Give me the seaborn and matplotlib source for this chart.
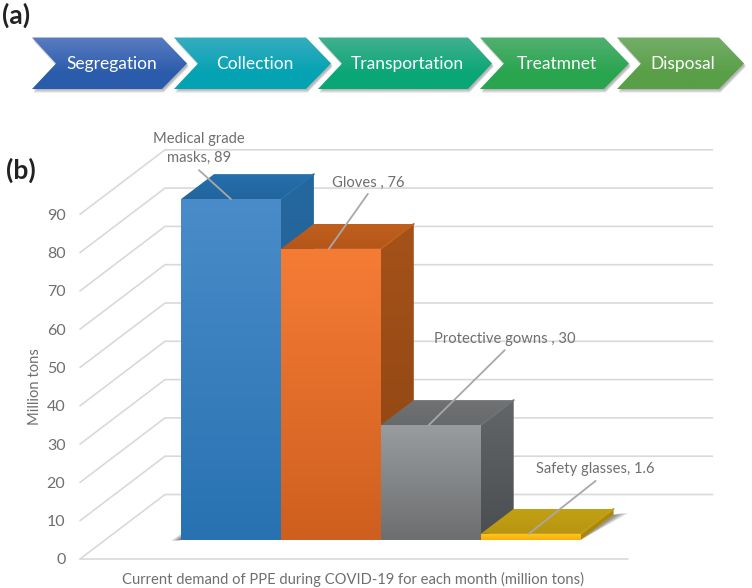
import numpy as np
import matplotlib
matplotlib.use("Agg")
import matplotlib.pyplot as plt
from matplotlib.colors import to_rgb
from matplotlib.patches import Polygon
import seaborn as sns

# ---- data ----
steps = ["Segregation", "Collection", "Transportation", "Treatmnet", "Disposal"]
categories = ["Medical grade masks", "Gloves", "Protective gowns", "Safety glasses"]
values = [89, 76, 30, 1.6]
bar_labels = ["Medical grade\nmasks, 89", "Gloves , 76", "Protective gowns , 30", "Safety glasses, 1.6"]
y_ticks = [0, 10, 20, 30, 40, 50, 60, 70, 80, 90]
y_label = "Million tons"
x_label = "Current demand of PPE during COVID-19 for each month (million tons)"

# ---- styles ----
W, H = 752, 588
GRID = "#d9d9d9"
TXT = "#6f6f6f"
front_top = ["#4a8cca", "#f57c35", "#999c9e", "#ffc91e"]
front_bot = ["#2872b1", "#cf5f1f", "#6c6e70", "#f8ae08"]
top_top = ["#2570ad", "#c0601e", "#707274", "#c2a015"]
top_bot = ["#22649e", "#b5561a", "#67696b", "#b8950f"]
side_top = ["#25689f", "#a5521a", "#626668", "#a8880f"]
side_bot = ["#1f5c8e", "#8d4411", "#4b4e50", "#a8880f"]
chev_top = ["#5a7cc2", "#36adc0", "#42b08f", "#52b070", "#74ae68"]
chev_bot = ["#2a5cab", "#03a3b3", "#0aa776", "#28a54e", "#599f47"]
chev_box = [(32, 162, 187), (174, 306, 331), (318, 468, 492), (480, 604, 629), (617, 719, 744)]
leader_off = [(-32, 29), (39, 55), (76, 75), (67, 53)]
text_off = [(-32, 51), (39, 66), (76, 86), (67, 65)]

sns.set_theme(style="white")
plt.rcParams["font.family"] = ["Lato", "DejaVu Sans"]

fig = plt.figure(figsize=(W / 100, H / 100), dpi=100, facecolor="white")

# main axes: left=80, right=712.5, bottom=559, top=149 (px)
L, R, B, T = 80, 712.5, 559, 149
ax = fig.add_axes([L / W, 1 - B / H, (R - L) / W, (B - T) / H])
PX_X = 99.9     # px per category
PX_Y = 3.83     # px per value unit
BAR_L, BAR_B = 181, 540   # pixel of first bar's left edge and its base
xlim = (-0.5 - (BAR_L - L) / PX_X, -0.5 + (R - BAR_L) / PX_X)
ylim = (-(B - BAR_B) / PX_Y, (BAR_B - T) / PX_Y)
base = ylim[0]

sns.barplot(x=categories, y=values, hue=categories, palette=front_bot, width=1,
            saturation=1, legend=False, ax=ax, zorder=5)
bars = list(ax.patches)


def grad(a, verts, c_top, c_bot, z):
    verts = np.asarray(verts, float)
    t = np.linspace(0, 1, 128)[:, None]
    img = (1 - t)[:, :, None] * np.array(to_rgb(c_top))[None, None, :] + \
        t[:, :, None] * np.array(to_rgb(c_bot))[None, None, :]
    ext = (verts[:, 0].min(), verts[:, 0].max(), verts[:, 1].min(), verts[:, 1].max())
    im = a.imshow(img, extent=ext, aspect="auto", zorder=z, interpolation="bilinear", origin="upper")
    clip = Polygon(verts, closed=True, transform=a.transData, facecolor="none", edgecolor="none")
    a.add_patch(clip)
    im.set_clip_path(clip)


# depth of the bars and the floor/back wall
DX, DY = 33 / PX_X, 25 / PX_Y
WX, WY = 85 / PX_X, 64.5 / PX_Y

# grid: diagonal on side wall, horizontal on back wall
for t in y_ticks:
    y0 = t + base
    ax.plot([xlim[0], xlim[0] + WX, xlim[1]], [y0, y0 + WY, y0 + WY], color=GRID, lw=1.2,
            zorder=1, solid_joinstyle="miter", clip_on=False)
# floor edge
ax.plot([xlim[0], xlim[1] - WX], [base, base], color=GRID, lw=1.2, zorder=1, clip_on=False)

# bars drawn by seaborn, finished with top / side faces built from each bar
for i, p in enumerate(bars):
    x0, x1 = p.get_x(), p.get_x() + p.get_width()
    h = p.get_height()
    z = 10 + i
    p.set_zorder(z)
    p.set_edgecolor("none")
    grad(ax, [(x0, 0), (x1, 0), (x1, h), (x0, h)], front_top[i], front_bot[i], z + 0.3)
    grad(ax, [(x0, h), (x1, h), (x1 + DX, h + DY), (x0 + DX, h + DY)], top_top[i], top_bot[i], z + 0.1)
    grad(ax, [(x1, 0), (x1 + DX, DY), (x1 + DX, h + DY), (x1, h)], side_top[i], side_bot[i], z + 0.1)
    # lighter rounded edge at the top-right corner
    ax.plot([x1, x1 + DX], [h, h + DY], color=top_top[i], lw=1.4, alpha=.9, zorder=z + 0.2, solid_capstyle="round")

# soft ground shadows
for k in range(7):
    a = 0.13
    g = k * 2.2
    p = bars[-1]
    x1 = p.get_x() + p.get_width()
    ax.add_patch(Polygon([(x1, 0), (x1 + DX + (15 - g) / PX_X, DY + 2 / PX_Y), (x1 + DX, DY)], closed=True,
                         facecolor="#333333", edgecolor="none", alpha=a, zorder=8))
    p0 = bars[0]
    ax.add_patch(Polygon([(p0.get_x(), 0), (p0.get_x() - (10 - k * 1.4) / PX_X, -0.2), (p0.get_x(), (6 - k * 0.8) / PX_Y)],
                         closed=True, facecolor="#333333", edgecolor="none", alpha=a, zorder=8))

# leader lines and data labels
for i, p in enumerate(bars):
    xy = (p.get_x() + p.get_width() / 2 - 2 / PX_X * (i > 0), values[i])
    ax.annotate("", xy=xy, xytext=leader_off[i], textcoords="offset pixels", annotation_clip=False,
                arrowprops=dict(arrowstyle="-", color="#a8a8a8", lw=1.3, shrinkA=0, shrinkB=0), zorder=30)
    ax.annotate(bar_labels[i], xy=xy, xytext=text_off[i], textcoords="offset pixels", ha="center",
                va="center", color=TXT, fontsize=10.65, annotation_clip=False, zorder=31, linespacing=1.45)

ax.set_xlim(xlim)
ax.set_ylim(ylim)
ax.set_xticks([])
ax.set_yticks([])
ax.patch.set_alpha(0)
for s in ax.spines.values():
    s.set_visible(False)
ax.set_xlabel("")
ax.set_ylabel("")

# Tick labels on the front edge of the side wall
sec = ax.secondary_yaxis("left", functions=(lambda v: v - base, lambda v: v + base))
sec.set_yticks(y_ticks)
sec.tick_params(axis="y", length=0, pad=10.5, labelsize=11.5, labelcolor=TXT)
sec.spines["left"].set_visible(False)
sec.set_ylabel(y_label, color=TXT, fontsize=10.65)
sec.yaxis.set_label_coords((42 - L) / (R - L), (B - 387) / (B - T), transform=ax.transAxes)
fig.text((122 + 584) / 2 / W, 1 - 579 / H, x_label, color=TXT, fontsize=10.65, ha="center", va="center")

# process chevrons and panel letters on a pixel-scaled overlay
ov = fig.add_axes([0, 0, 1, 1], facecolor="none")
top, mid, bot = 37.5, 63.5, 89
for i, name in enumerate(steps):
    x0, sh, tip = chev_box[i]
    notch = x0 + 24
    v = [(x0, top), (sh, top), (tip, mid), (sh, bot), (x0, bot), (notch, mid)]
    for k in range(5):
        sv = [(x + 1.5, y + 1 + k * 0.7) for x, y in v]
        ov.add_patch(Polygon(sv, closed=True, facecolor="#444444", edgecolor="none", alpha=0.09, zorder=2))
    t = np.linspace(0, 1, 128)[:, None]
    img = np.empty((128, 1, 3))
    ct, cb = np.array(to_rgb(chev_top[i])), np.array(to_rgb(chev_bot[i]))
    tt = np.clip(t / 0.7, 0, 1)
    img[:, 0, :] = (1 - tt) * ct + tt * cb
    im = ov.imshow(img, extent=(x0, tip, bot, top), aspect="auto", zorder=3, interpolation="bilinear")
    clip = Polygon(v, closed=True, transform=ov.transData, facecolor="none", edgecolor="none")
    ov.add_patch(clip)
    im.set_clip_path(clip)
    ov.text((notch + tip) / 2 - 10 if i else 111.5, mid + 0.5, name, color="white", fontsize=12.5, ha="center", va="center", zorder=5)

ov.text(2, 15, "(a)", fontsize=19, fontweight="bold", color="#222222", va="center", ha="left")
ov.text(6, 170, "(b)", fontsize=19, fontweight="bold", color="#222222", va="center", ha="left")
ov.set_xlim(0, W)
ov.set_ylim(H, 0)
ov.axis("off")

fig.savefig("out.png", dpi=100)
